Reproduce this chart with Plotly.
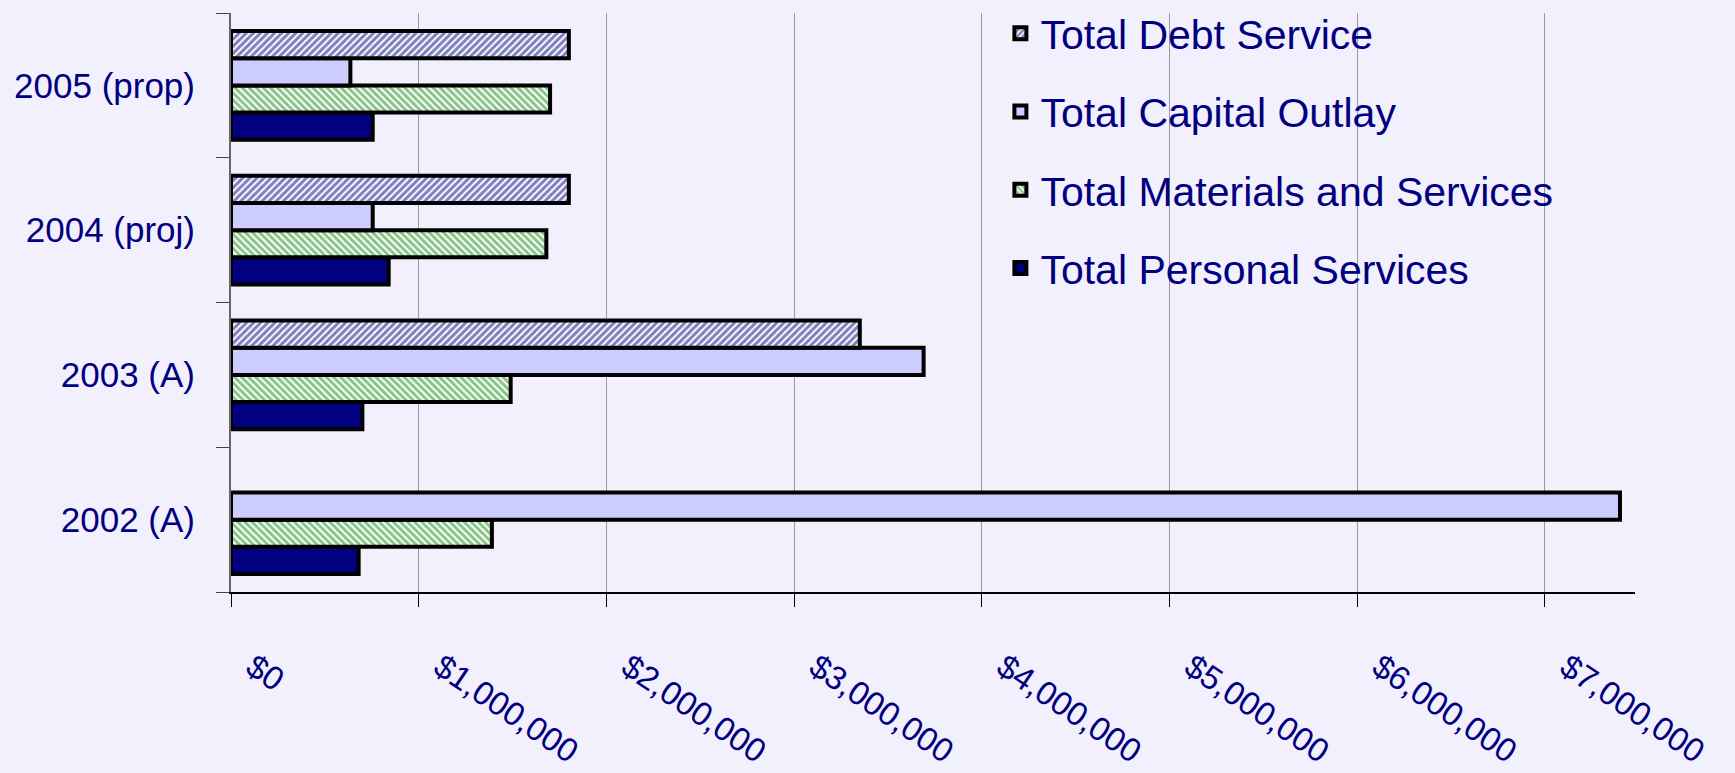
import plotly.graph_objects as go

categories = ["2002 (A)", "2003 (A)", "2004 (proj)", "2005 (prop)"]
personal_services = [680000, 700000, 840000, 755000]
materials_services = [1390000, 1490000, 1680000, 1700000]
capital_outlay = [7400000, 3690000, 755000, 636000]
debt_service = [None, 3350000, 1800000, 1800000]
x_tickvals = [0, 1000000, 2000000, 3000000, 4000000, 5000000, 6000000, 7000000]
x_ticktext = ["$0", "$1,000,000", "$2,000,000", "$3,000,000", "$4,000,000",
              "$5,000,000", "$6,000,000", "$7,000,000"]

NAVY = "#000080"
BG = "#F2F0FC"
FONT = "Liberation Sans Narrow, Arial Narrow, Liberation Sans, Arial, sans-serif"

fig = go.Figure()

def add(name, values, rank, color, pattern=None):
    marker = dict(color=color, line=dict(color="black", width=4))
    if pattern:
        marker["pattern"] = pattern
    fig.add_trace(go.Bar(
        y=categories, x=values, name=name, orientation="h",
        marker=marker, legendrank=rank, legendgroup=name,
    ))

add("Total Personal Services", personal_services, 4, NAVY)
add("Total Materials and Services", materials_services, 3, "white",
    dict(shape="\\", fgcolor="#138A13", bgcolor="white", size=5, solidity=0.6))
add("Total Capital Outlay", capital_outlay, 2, "#CCCCFF")
add("Total Debt Service", debt_service, 1, "white",
    dict(shape="/", fgcolor=NAVY, bgcolor="white", size=5, solidity=0.6))

fig.update_layout(
    width=1735, height=773,
    paper_bgcolor=BG, plot_bgcolor=BG,
    margin=dict(l=231, r=100, t=13, b=181, autoexpand=False),
    barmode="group", bargap=0.25, bargroupgap=0,
    font=dict(family=FONT, color=NAVY),
    legend=dict(
        x=0.548, y=1.005, xanchor="left", yanchor="top", yref="container",
        bgcolor="rgba(0,0,0,0)", font=dict(size=41, color=NAVY, family=FONT),
        tracegroupgap=22, itemwidth=30,
    ),
    xaxis=dict(
        range=[0, 7480000], tickvals=x_tickvals, ticktext=x_ticktext,
        showgrid=True, gridcolor="#9A9A9A", gridwidth=1,
        showline=True, linecolor="black", linewidth=2,
        ticks="outside", ticklen=13, tickcolor="black",
        tickangle=34, tickfont=dict(size=33, color=NAVY, family=FONT),
        zeroline=False, ticklabelstandoff=28, ticklabelshift=22, automargin=False,
    ),
    yaxis=dict(
        showgrid=False, showline=True, linecolor="#666666", linewidth=2,
        ticks="outside", ticklen=13, tickcolor="#444444", tickson="boundaries",
        tickfont=dict(size=35, color=NAVY, family=FONT),
        ticklabelstandoff=27, automargin=False,
    ),
)

fig.write_html(
    "out.html",
    config={"displayModeBar": False},
    post_script="document.body.style.margin='0';document.body.style.background='" + BG + "';",
)
